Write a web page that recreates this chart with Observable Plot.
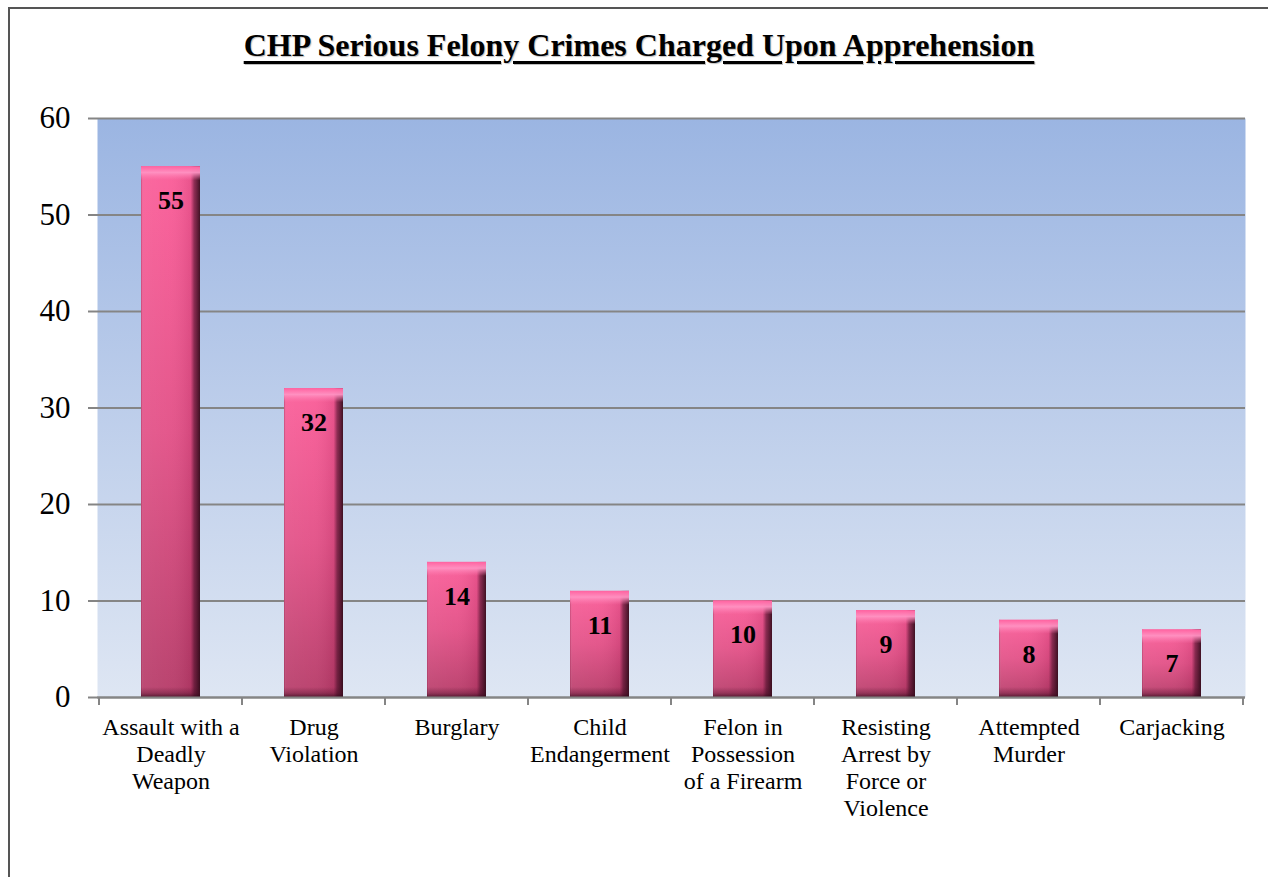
<!DOCTYPE html>
<html>
<head>
<meta charset="utf-8">
<script src="https://cdn.jsdelivr.net/npm/d3@7"></script>
<script src="https://cdn.jsdelivr.net/npm/@observablehq/plot@0.6"></script>
<style>
  html, body { margin: 0; padding: 0; background: #fff; overflow: hidden; }
  #frame { position: absolute; left: 8px; top: 7px; width: 1280px; height: 900px; border: 2px solid #555; box-sizing: border-box; }
  #title { position: absolute; left: 0; width: 1278px; top: 27px; text-align: center; font-family: "Liberation Serif", "Times New Roman", serif; font-weight: bold; font-size: 32px; text-decoration: underline; text-decoration-thickness: 3px; text-underline-offset: 5px; color: #000; text-shadow: 1px 1px 1px rgba(0,0,0,0.25); }
  #chart { position: absolute; left: 0; top: 0; }
</style>
</head>
<body>
<div id="frame"></div>
<div id="title">CHP Serious Felony Crimes Charged Upon Apprehension</div>
<div id="chart"></div>
<script>
const categories = ["Assault with a Deadly Weapon", "Drug Violation", "Burglary", "Child Endangerment", "Felon in Possession of a Firearm", "Resisting Arrest by Force or Violence", "Attempted Murder", "Carjacking"];
const labelLines = ["Assault with a\nDeadly\nWeapon", "Drug\nViolation", "Burglary", "Child\nEndangerment", "Felon in\nPossession\nof a Firearm", "Resisting\nArrest by\nForce or\nViolence", "Attempted\nMurder", "Carjacking"];
const values = [55, 32, 14, 11, 10, 9, 8, 7];
const yTicks = [0, 10, 20, 30, 40, 50, 60];

const data = categories.map((c, i) => ({name: c, label: labelLines[i], value: values[i]}));
const serif = "'Liberation Serif', 'Times New Roman', serif";

const chart = Plot.plot({
  width: 1268,
  height: 877,
  marginLeft: 97,
  marginTop: 118,
  marginRight: 23,
  marginBottom: 180,
  style: {fontFamily: serif, background: "transparent", overflow: "visible"},
  x: {domain: categories, paddingInner: 0.59, paddingOuter: 0.295, axis: null},
  y: {domain: [0, 60], ticks: yTicks, axis: null},
  marks: [
    Plot.frame({fill: "url(#bgGrad)", stroke: null}),
    Plot.gridY(yTicks, {stroke: "#858585", strokeWidth: 2, strokeOpacity: 1}),
    Plot.axisY({ticks: yTicks, tickSize: 9, tickPadding: 18, fontSize: 31, stroke: "#858585", strokeWidth: 2, color: "#000", label: null}),
    Plot.ruleX([0], {stroke: "#858585", strokeWidth: 2}),
    Plot.barY(data, {x: "name", y: "value", fill: "url(#barV)"}),
    Plot.barY(data, {x: "name", y: "value", fill: "url(#barH)"}),
    Plot.barY(data, {x: "name", y1: "value", y2: "value", insetBottom: -14, fill: "url(#bevTop)"}),
    Plot.barY(data, {x: "name", y1: 0, y2: 0, insetTop: -10, fill: "url(#bevBot)"}),
    Plot.ruleY([0], {stroke: "#858585", strokeWidth: 2}),
    Plot.text(data, {x: "name", y: "value", text: d => String(d.value), dy: 34, fontSize: 26, fontWeight: "bold", fill: "#000", fontFamily: serif}),
    Plot.text(data, {x: "name", y: 0, text: "label", lineAnchor: "top", dy: 18, fontSize: 24, lineHeight: 1.125, fill: "#000", fontFamily: serif})
  ]
});

const svg = d3.select(chart);
svg.insert("defs", ":first-child").html(`
  <linearGradient id="bgGrad" x1="0" y1="0" x2="0" y2="1">
    <stop offset="0" stop-color="#9bb5e2"/>
    <stop offset="1" stop-color="#dee6f3"/>
  </linearGradient>
  <linearGradient id="barV" x1="0" y1="0" x2="0" y2="1">
    <stop offset="0" stop-color="#fb5c98"/>
    <stop offset="0.5" stop-color="#e24f86"/>
    <stop offset="1" stop-color="#b53a67"/>
  </linearGradient>
  <linearGradient id="barH" x1="0" y1="0" x2="1" y2="0">
    <stop offset="0" stop-color="#7a1a40" stop-opacity="0.4"/>
    <stop offset="0.04" stop-color="#ffffff" stop-opacity="0.08"/>
    <stop offset="0.5" stop-color="#ffffff" stop-opacity="0.05"/>
    <stop offset="0.84" stop-color="#5a1030" stop-opacity="0.1"/>
    <stop offset="0.9" stop-color="#3a0a20" stop-opacity="0.55"/>
    <stop offset="1" stop-color="#200510" stop-opacity="0.85"/>
  </linearGradient>
  <linearGradient id="bevTop" x1="0" y1="0" x2="0" y2="1">
    <stop offset="0" stop-color="#ff62a0" stop-opacity="1"/>
    <stop offset="0.45" stop-color="#ff92c2" stop-opacity="0.95"/>
    <stop offset="1" stop-color="#ff7ab0" stop-opacity="0"/>
  </linearGradient>
  <linearGradient id="bevBot" x1="0" y1="0" x2="0" y2="1">
    <stop offset="0" stop-color="#4a1028" stop-opacity="0"/>
    <stop offset="0.6" stop-color="#4a1028" stop-opacity="0.35"/>
    <stop offset="1" stop-color="#2a0615" stop-opacity="0.7"/>
  </linearGradient>
`);

// Category boundary tick marks on the x axis, derived from the band scale
const xs = chart.scale("x");
const ys = chart.scale("y");
const step = xs.step;
const x0 = xs.apply(categories[0]) - (step - xs.bandwidth) / 2;
const bounds = d3.range(categories.length + 1).map(i => x0 + i * step);
svg.append("g").selectAll("line").data(bounds).join("line")
  .attr("x1", d => d).attr("x2", d => d)
  .attr("y1", ys.apply(0)).attr("y2", ys.apply(0) + 8)
  .attr("stroke", "#858585").attr("stroke-width", 2);

document.getElementById("chart").appendChild(chart);
</script>
</body>
</html>
